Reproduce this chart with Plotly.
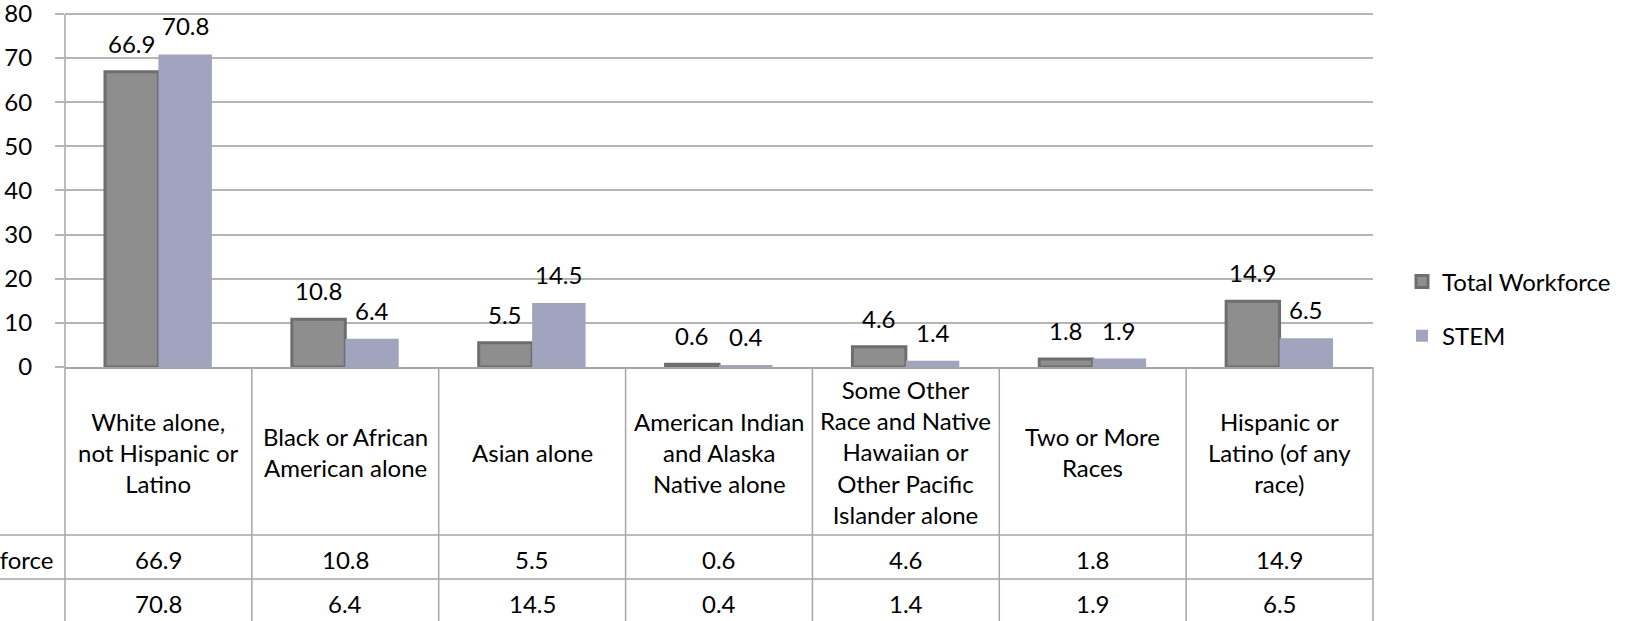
import plotly.graph_objects as go

categories = [
    "White alone,<br>not Hispanic or<br>Latino",
    "Black or African<br>American alone",
    "Asian alone",
    "American Indian<br>and Alaska<br>Native alone",
    "Some Other<br>Race and Native<br>Hawaiian or<br>Other Pacific<br>Islander alone",
    "Two or More<br>Races",
    "Hispanic or<br>Latino (of any<br>race)",
]
cat_keys = ["c%d" % i for i in range(len(categories))]
total_workforce = [66.9, 10.8, 5.5, 0.6, 4.6, 1.8, 14.9]
stem = [70.8, 6.4, 14.5, 0.4, 1.4, 1.9, 6.5]
series_names = ["Total Workforce", "STEM"]
y_ticks = [0, 10, 20, 30, 40, 50, 60, 70, 80]

W, H = 1637, 621
ML, MR, MT, MB = 65, 264, 5, 254
PW = W - ML - MR
PH = H - MT - MB

FONT = "Lato"
FS = 24
GRID = "#b5b5b5"
LINE = "#a6a6a6"

def py(p):  # pixel y -> paper y
    return (H - MB - p) / PH

def px(p):  # pixel x -> paper x
    return (p - ML) / PW

fig = go.Figure()
fig.add_trace(go.Bar(
    x=cat_keys, y=total_workforce, name=series_names[0],
    marker=dict(color="#8e8e8e", line=dict(color="#6e6e6e", width=3)),
    legendgroup="a",
))
fig.add_trace(go.Bar(
    x=cat_keys, y=stem, name=series_names[1],
    marker=dict(color="#a0a4be", line=dict(width=0)),
    legendgroup="b",
))

ann = []
bar_off = 0.572 * PW / len(categories) / 4
for i, k in enumerate(cat_keys):
    ann.append(dict(x=k, y=total_workforce[i], xref="x", yref="y", text=f"{total_workforce[i]}",
                    showarrow=False, yanchor="bottom", xshift=-bar_off, yshift=12,
                    font=dict(size=FS, family=FONT, color="#000")))
    ann.append(dict(x=k, y=stem[i], xref="x", yref="y", text=f"{stem[i]}",
                    showarrow=False, yanchor="bottom", xshift=bar_off, yshift=12,
                    font=dict(size=FS, family=FONT, color="#000")))

n = len(categories)
for i, c in enumerate(categories):
    xd = (i + 0.5) / n
    ann.append(dict(x=xd, y=py(452), xref="x domain", yref="paper", text=c, showarrow=False,
                    xanchor="center", yanchor="middle", align="center",
                    font=dict(size=FS, family=FONT, color="#000")))
    ann.append(dict(x=xd, y=py(559), xref="x domain", yref="paper", text=f"{total_workforce[i]}",
                    showarrow=False, xanchor="center", yanchor="middle",
                    font=dict(size=FS, family=FONT, color="#000")))
    ann.append(dict(x=xd, y=py(603), xref="x domain", yref="paper", text=f"{stem[i]}",
                    showarrow=False, xanchor="center", yanchor="middle",
                    font=dict(size=FS, family=FONT, color="#000")))

ann.append(dict(x=px(55), y=py(559), xref="paper", yref="paper", text=series_names[0],
                showarrow=False, xanchor="right", yanchor="middle",
                font=dict(size=FS, family=FONT, color="#000")))

shapes = []
for i in range(n + 1):
    top = py(14) if i == 0 else 0
    shapes.append(dict(type="line", xref="x domain", yref="paper", x0=i / n, x1=i / n,
                       y0=top, y1=py(640), line=dict(color=LINE, width=1.5)))
for yy in (535, 579):
    shapes.append(dict(type="line", xref="paper", yref="paper", x0=px(-5), x1=1,
                       y0=py(yy), y1=py(yy), line=dict(color=LINE, width=1.5)))

fig.update_layout(
    width=W, height=H,
    margin=dict(l=ML, r=MR, t=MT, b=MB, pad=0, autoexpand=False),
    paper_bgcolor="white", plot_bgcolor="white",
    barmode="group", bargap=0.428, bargroupgap=0,
    font=dict(family=FONT, size=FS, color="#000"),
    showlegend=True,
    legend=dict(x=px(1402), y=py(309), xanchor="left", yanchor="middle",
                font=dict(size=FS, family=FONT, color="#000"),
                tracegroupgap=20, itemwidth=30, bgcolor="rgba(0,0,0,0)"),
    annotations=ann, shapes=shapes,
)
fig.update_xaxes(showticklabels=False, showgrid=False, showline=True, linecolor=LINE,
                 linewidth=1.5, ticks="", range=[-0.5, n - 0.5], categoryorder="array",
                 categoryarray=cat_keys, automargin=False)
fig.update_yaxes(range=[0, 82], tickmode="array", tickvals=y_ticks, showgrid=True,
                 gridcolor=GRID, gridwidth=1.5, showline=False, ticks="outside", ticklen=9,
                 tickcolor=GRID, tickwidth=1.5, ticklabelstandoff=18, zeroline=False,
                 ticklabeloverflow="allow", automargin=False,
                 tickfont=dict(size=FS, family=FONT, color="#000"))

fig.write_html(
    "out.html",
    config={"displayModeBar": False},
    post_script="document.body.style.margin='0';document.body.style.overflow='hidden';",
)
